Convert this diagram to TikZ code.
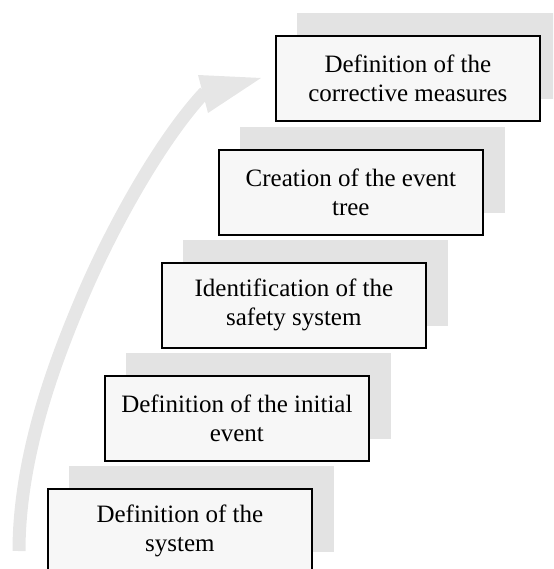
\documentclass[tikz,border=0pt]{standalone}
\usepackage{fontspec}
\setmainfont{Liberation Serif}
\definecolor{boxfill}{HTML}{F7F7F7}
\definecolor{shadowgray}{HTML}{E3E3E3}
\definecolor{arrowgray}{HTML}{E6E6E6}
\begin{document}
\begin{tikzpicture}[x=1pt,y=-1pt,
  stepbox/.style={draw=black, line width=1.7pt, fill=boxfill, minimum width=264pt,
    minimum height=85pt, inner sep=0pt, align=center, anchor=north west,
    font=\fontsize{25}{29}\selectfont},
  shadowbox/.style={fill=shadowgray, minimum width=265pt, minimum height=86pt,
    inner sep=0pt, anchor=north west},
  bigarrow/.style={draw=arrowgray, line width=13pt},
  arrowhead/.style={fill=arrowgray}]
\useasboundingbox (0,0) rectangle (553,569);
\clip (0,0) rectangle (553,569);

% curved arrow
\coordinate (tail) at (19,551);
\coordinate (mid) at (81,300);
\coordinate (shaftend) at (205,92);
\coordinate (hA) at (198,75);
\coordinate (hB) at (261,78);
\coordinate (hC) at (208,113);
\draw[bigarrow] (tail) .. controls (19,450) and (60,350) .. (mid)
  .. controls (110,231) and (160,140) .. (shaftend);
\fill[arrowhead] (hA) -- (hB) -- (hC) -- cycle;

% shadows
\node[shadowbox] (s1) at (69,466) {};
\node[shadowbox] (s2) at (126,353) {};
\node[shadowbox] (s3) at (183,240) {};
\node[shadowbox] (s4) at (240,127) {};
\node[shadowbox] (s5) at (297,13) {};

% boxes
\node[stepbox] (b1) at (47,488) {Definition of the\\system};
\node[stepbox] (b2) at (104,375) {Definition of the initial\\event};
\node[stepbox] (b3) at (161,262) {Identification of the\\safety system};
\node[stepbox] (b4) at (218,149) {Creation of the event\\tree};
\node[stepbox] (b5) at (275,35) {Definition of the\\corrective measures};
\end{tikzpicture}
\end{document}
